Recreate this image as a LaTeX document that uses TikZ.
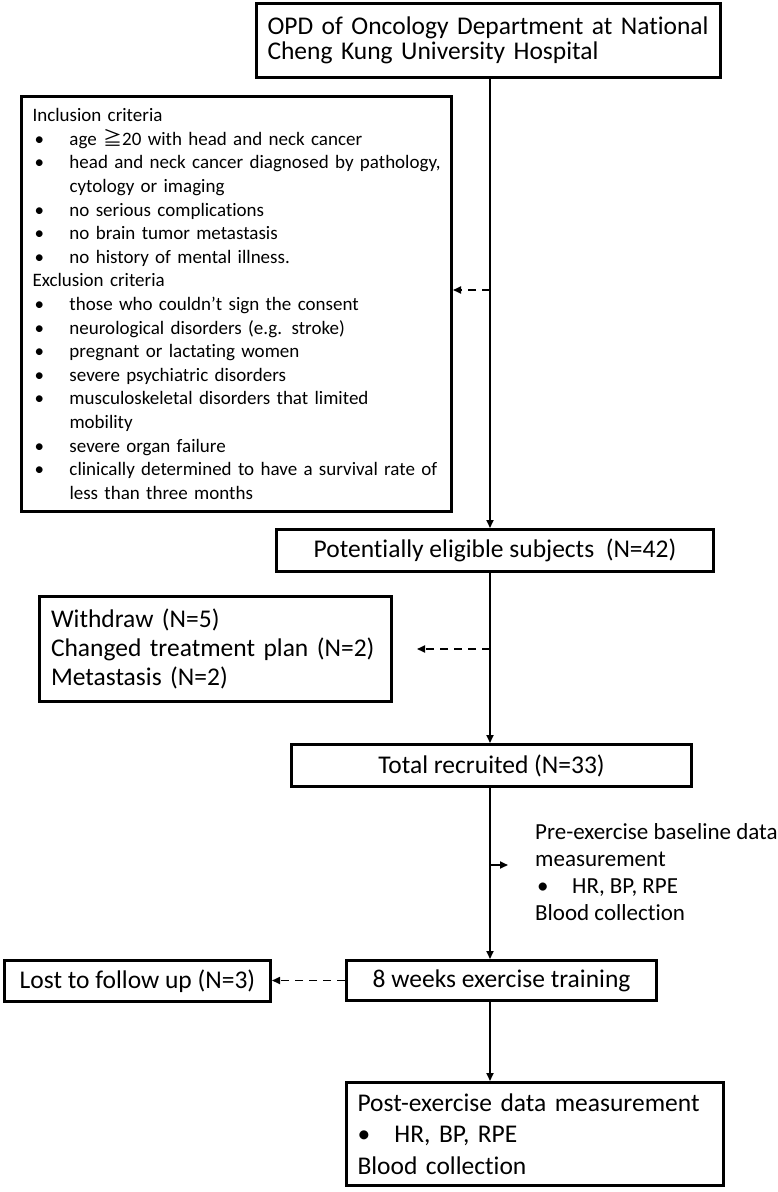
\documentclass[tikz,border=0pt]{standalone}
\usepackage{fontspec}
\setmainfont{Carlito}[Ligatures=CommonOff]
\newfontfamily\cjkfont{Noto Sans CJK SC}
\usetikzlibrary{arrows.meta}
\newcommand\bulx[2]{\mbox{\hspace*{2pt}\makebox[#1][l]{\textbullet}#2}}
\newcommand\contx[2]{\mbox{\hspace*{2pt}\hspace*{#1}#2}}
\begin{document}
\begin{tikzpicture}[x=1pt,y=-1pt,
  box/.style={draw, line width=3pt, inner ysep=0pt, inner xsep=11pt},
  bigtext/.style={font=\fontsize{25.5}{25}\selectfont},
  conn/.style={line width=1.7pt},
  arr/.style={conn, -{Triangle[length=8pt,width=7pt]}},
  dsh/.style={arr, dash pattern=on 8pt off 6pt}]
\useasboundingbox (0,0) rectangle (778,1192);
\coordinate (mx) at (490,0);
% top box
\node[box, bigtext, minimum width=464pt, text width=442pt, minimum height=74pt, align=left] (top) at (488.5,40.5)
  {\mbox{OPD of Oncology Department at National}\\\mbox{Cheng Kung University Hospital}};
% criteria box
\node[box, font=\fontsize{19}{23.6}\selectfont, minimum width=430pt, text width=408pt, minimum height=415pt, align=left] (crit) at (236.5,304)
  {\mbox{Inclusion criteria}\\
   \bulx{35pt}{age {\cjkfont ≧}20 with head and neck cancer}\\
   \bulx{35pt}{head and neck cancer diagnosed by pathology,}\\
   \contx{35pt}{cytology or imaging}\\
   \bulx{35pt}{no serious complications}\\
   \bulx{35pt}{no brain tumor metastasis}\\
   \bulx{35pt}{no history of mental illness.}\\
   \mbox{Exclusion criteria}\\
   \bulx{35pt}{those who couldn’t sign the consent}\\
   \bulx{35pt}{neurological disorders (e.g. stroke)}\\
   \bulx{35pt}{pregnant or lactating women}\\
   \bulx{35pt}{severe psychiatric disorders}\\
   \bulx{35pt}{musculoskeletal disorders that limited}\\
   \contx{35pt}{mobility}\\
   \bulx{35pt}{severe organ failure}\\
   \bulx{35pt}{clinically determined to have a survival rate of}\\
   \contx{35pt}{less than three months}};
% eligible
\node[box, bigtext, minimum width=437pt, minimum height=42pt] (elig) at (495,550.5)
  {Potentially eligible subjects\ \ (N=42)};
% withdraw
\node[box, font=\fontsize{25.5}{29}\selectfont, minimum width=352pt, text width=329pt, minimum height=105pt, align=left, inner xsep=11.5pt] (wd) at (215.5,649)
  {\mbox{Withdraw (N=5)}\\\mbox{Changed treatment plan (N=2)}\\\mbox{Metastasis (N=2)}};
% total
\node[box, bigtext, minimum width=400pt, minimum height=42pt] (tot) at (491.5,765.5)
  {Total recruited (N=33)};
% pre-exercise text
\node[font=\fontsize{23}{27}\selectfont, align=left, anchor=west, inner sep=0pt] (pre) at (535,872)
  {Pre-exercise baseline data\\measurement\\\bulx{35pt}{HR, BP, RPE}\\Blood collection};
% 8 weeks
\node[box, bigtext, minimum width=310pt, minimum height=40pt] (wk) at (501.5,980.5)
  {8 weeks exercise training};
% lost
\node[box, bigtext, minimum width=266pt, minimum height=41pt] (lost) at (137.5,981)
  {Lost to follow up (N=3)};
% post
\node[box, font=\fontsize{25.5}{31.5}\selectfont, minimum width=377pt, text width=355pt, minimum height=103pt, align=left] (post) at (535,1134)
  {\mbox{Post-exercise data measurement}\\\mbox{\makebox[37pt][l]{\textbullet}HR, BP, RPE}\\\mbox{Blood collection}};
% connectors
\coordinate (c1) at (490,290);
\coordinate (c2) at (490,649);
\coordinate (c2e) at (417,649);
\coordinate (c3) at (490,865);
\coordinate (c3e) at (508,865);
\draw[arr] (top.south -| mx) -- (elig.north -| mx);
\draw[dsh] (c1) -- (c1 -| crit.east);
\draw[arr] (elig.south -| mx) -- (tot.north -| mx);
\draw[dsh] (c2) -- (c2e);
\draw[arr] (tot.south -| mx) -- (wk.north -| mx);
\draw[arr] (c3) -- (c3e);
\draw[dsh] (wk.west) -- (wk.west -| lost.east);
\draw[arr] (wk.south -| mx) -- (post.north -| mx);
\end{tikzpicture}
\end{document}
